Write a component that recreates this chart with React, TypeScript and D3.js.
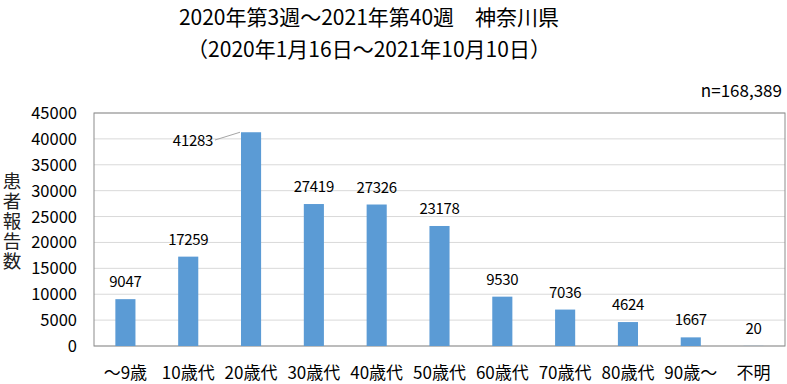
import React from "react";
import * as d3 from "d3";

const categories = ["～9歳", "10歳代", "20歳代", "30歳代", "40歳代", "50歳代", "60歳代", "70歳代", "80歳代", "90歳～", "不明"];
const values = [9047, 17259, 41283, 27419, 27326, 23178, 9530, 7036, 4624, 1667, 20];
const yTicks = [0, 5000, 10000, 15000, 20000, 25000, 30000, 35000, 40000, 45000];
const titleLines = ["2020年第3週～2021年第40週　神奈川県", "（2020年1月16日～2021年10月10日）"];
const nLabel = "n=168,389";
const yTitle = "患者報告数";

const W = 787, H = 384;
const M = { left: 94, right: 785, top: 113, bottom: 346 };
const FONT = "'Noto Sans CJK JP', 'Noto Sans', sans-serif";

export default function App() {
  const x = d3.scaleBand<string>().domain(categories).range([M.left, M.right]).paddingInner(0.68).paddingOuter(0.34);
  const y = d3.scaleLinear().domain([0, 45000]).range([M.bottom, M.top]);
  return (
    <svg width={W} height={H} style={{ position: "absolute", left: 0, top: 0, background: "#fff" }} fontFamily={FONT}>
      <rect x={0} y={0} width={W} height={H} fill="#fff" />
      {titleLines.map((t, i) => (
        <text key={i} x={369} y={25 + i * 32} textAnchor="middle" fontSize={21} fill="#000" style={{ letterSpacing: "0px" }}>{t}</text>
      ))}
      <text x={782} y={97} textAnchor="end" fontSize={17} fill="#000">{nLabel}</text>
      {yTicks.map((t) => (
        <g key={t}>
          <line x1={M.left} x2={M.right} y1={y(t)} y2={y(t)} stroke="#d9d9d9" strokeWidth={1} />
          <text x={77} y={y(t) + 6} textAnchor="end" fontSize={16.5} fill="#000">{t}</text>
        </g>
      ))}
      <rect x={M.left} y={M.top} width={M.right - M.left} height={M.bottom - M.top} fill="none" stroke="#8c8c8c" strokeWidth={1} />
      {categories.map((c, i) => {
        const v = values[i];
        const bx = x(c)!;
        const bw = x.bandwidth();
        const cx = bx + bw / 2;
        const top = y(v);
        const isMax = v === d3.max(values);
        return (
          <g key={c}>
            <rect x={bx} y={top} width={bw} height={M.bottom - top} fill="#5b9bd5" />
            {isMax ? (
              <g>
                <line x1={215} y1={140} x2={bx - 1} y2={top} stroke="#a6a6a6" strokeWidth={1} />
                <text x={213} y={146} textAnchor="end" fontSize={15} fill="#000" style={{ letterSpacing: "-0.3px" }}>{v}</text>
              </g>
            ) : (
              <text x={cx} y={top - 12} textAnchor="middle" fontSize={15} fill="#000" style={{ letterSpacing: "-0.3px" }}>{v}</text>
            )}
            <text x={cx} y={379} textAnchor="middle" fontSize={17} fill="#000">{c}</text>
          </g>
        );
      })}
      <text x={12} y={172} fontSize={18.5} fill="#222" style={{ writingMode: "vertical-rl", letterSpacing: "1.5px" }}>{yTitle}</text>
    </svg>
  );
}
